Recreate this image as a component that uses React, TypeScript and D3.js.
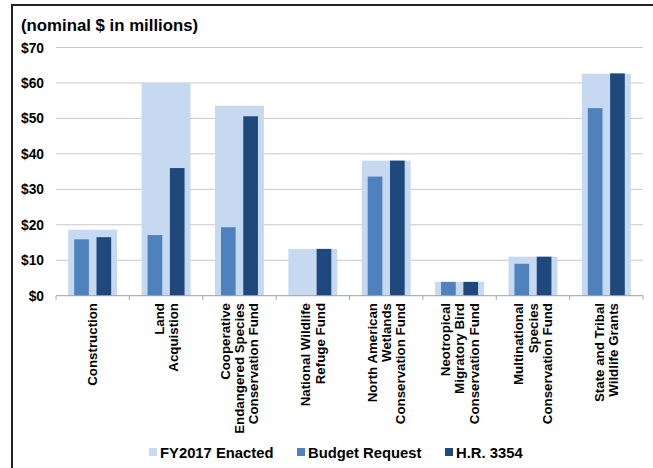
import React from "react";
import * as d3 from "d3";

const categories = [
  ["Construction"],
  ["Land", "Acquistion"],
  ["Cooperative", "Endangered Species", "Conservation Fund"],
  ["National Wildlife", "Refuge Fund"],
  ["North American", "Wetlands", "Conservation Fund"],
  ["Neotropical", "Migratory Bird", "Conservation Fund"],
  ["Multinational", "Species", "Conservation Fund"],
  ["State and Tribal", "Wildlife Grants"],
];
const enacted = [18.6, 60.0, 53.6, 13.2, 38.1, 3.9, 11.0, 62.6];
const budget = [15.9, 17.1, 19.3, 0, 33.6, 3.9, 9.0, 52.9];
const hr = [16.5, 36.0, 50.6, 13.2, 38.1, 3.9, 11.0, 62.7];
const yTicks = [0, 10, 20, 30, 40, 50, 60, 70];
const seriesNames = ["FY2017 Enacted", "Budget Request", "H.R. 3354"];
const colors = ["#c6d9f1", "#4f81bd", "#1f497d"];

export default function App() {
  const W = 653, H = 468;
  const x = d3.scaleBand().domain(categories.map((_, i) => String(i))).range([56, 643]).padding(0);
  const y = d3.scaleLinear().domain([0, 70]).range([295.7, 47.5]);
  const font = "'Liberation Sans', Arial, sans-serif";
  const bw = x.bandwidth();
  const wide = bw * 0.667;
  const narrow = bw * 0.2;
  const off = bw * 0.152;
  return (
    <svg width={W} height={H} style={{ position: "absolute", left: 0, top: 0, background: "#fff" }} fontFamily={font}>
      <rect x={12} y={5} width={700} height={500} fill="none" stroke="#222" strokeWidth={2} />
      <text x={21} y={31} fontSize={16.8} fontWeight="bold" fill="#000">(nominal $ in millions)</text>
      {yTicks.map((t) => (
        <g key={t}>
          {t > 0 && <line x1={56} x2={643} y1={y(t)} y2={y(t)} stroke="#c8c8c8" strokeWidth={1} />}
          <text x={44} y={y(t) + 5} fontSize={13.8} fontWeight="bold" textAnchor="end" fill="#000">{"$" + t}</text>
        </g>
      ))}
      {categories.map((c, i) => {
        const cx = (x(String(i)) as number) + bw / 2;
        return (
          <g key={i}>
            <rect x={cx - wide / 2} y={y(enacted[i])} width={wide} height={y(0) - y(enacted[i])} fill={colors[0]} />
            {budget[i] > 0 && <rect x={cx - off - narrow / 2} y={y(budget[i])} width={narrow} height={y(0) - y(budget[i])} fill={colors[1]} />}
            <rect x={cx + off - narrow / 2} y={y(hr[i])} width={narrow} height={y(0) - y(hr[i])} fill={colors[2]} />
          </g>
        );
      })}
      <line x1={56} x2={643} y1={y(0)} y2={y(0)} stroke="#a0a0a0" strokeWidth={1} />
      {d3.range(categories.length + 1).map((i) => {
        const xx = 56 + i * bw;
        return <line key={i} x1={xx} x2={xx} y1={y(0)} y2={y(0) + 4} stroke="#a0a0a0" />;
      })}
      {categories.map((c, i) => {
        const cx = (x(String(i)) as number) + bw / 2;
        const n = c.length;
        return (
          <g key={i} transform={`translate(${cx},303) rotate(-90)`}>
            {c.map((line, j) => (
              <text key={j} x={0} y={(j - (n - 1) / 2) * 14.3 + 4.7} fontSize={13.3} fontWeight="bold" textAnchor="end" fill="#000">{line}</text>
            ))}
          </g>
        );
      })}
      {seriesNames.map((s, i) => {
        const lx = [149, 297, 445][i];
        return (
          <g key={s}>
            <rect x={lx} y={448} width={8} height={8} fill={colors[i]} />
            <text x={lx + 11} y={458} fontSize={14.8} fontWeight="bold" fill="#000">{s}</text>
          </g>
        );
      })}
    </svg>
  );
}
